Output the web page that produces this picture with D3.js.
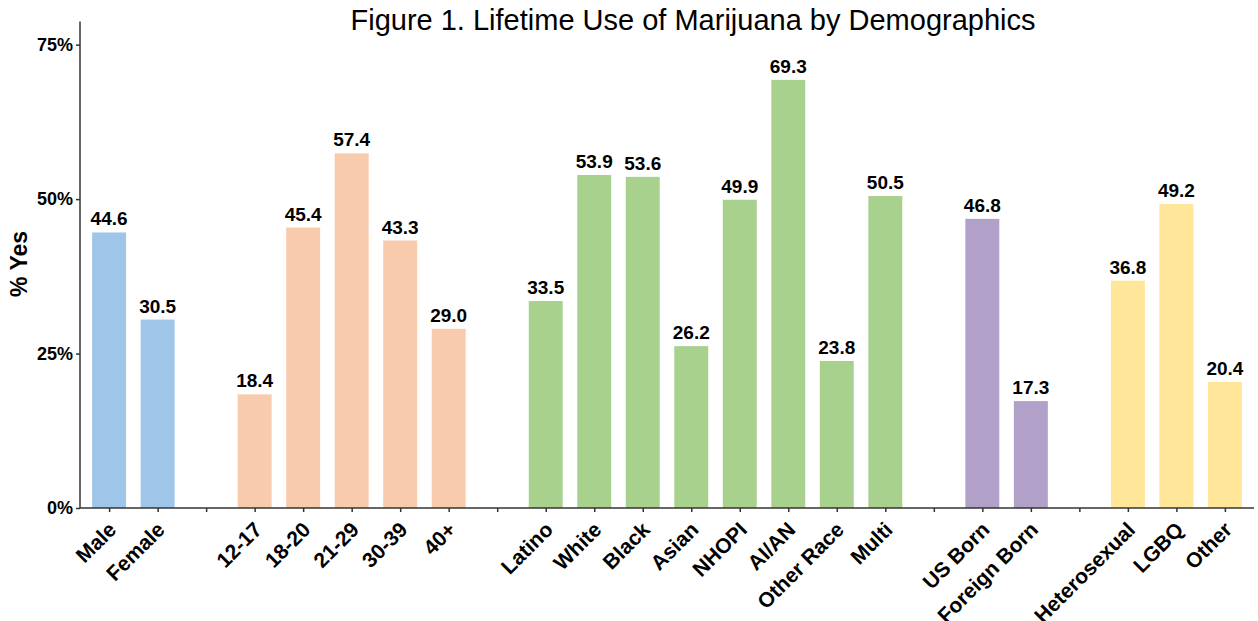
<!DOCTYPE html>
<meta charset="utf-8">
<head>
    <style>
        body {
            margin: 0;
            background: white;
            font-family: "Liberation Sans", Arial, sans-serif;
        }

        .tick text {
            font-weight: bold;
            fill: black;
        }

        .domain, .tick line {
            stroke: #333;
            stroke-width: 1.5px;
        }
    </style>
</head>

<body>
    <script src="https://d3js.org/d3.v7.min.js"></script>
    <div id="chart"></div>

    <script>
        // data: "" marks an empty slot between groups
        var categories = ["Male", "Female", "",
            "12-17", "18-20", "21-29", "30-39", "40+", "",
            "Latino", "White", "Black", "Asian", "NHOPI", "AI/AN", "Other Race", "Multi", "",
            "US Born", "Foreign Born", "",
            "Heterosexual", "LGBQ", "Other"];
        var values = [44.6, 30.5, null,
            18.4, 45.4, 57.4, 43.3, 29.0, null,
            33.5, 53.9, 53.6, 26.2, 49.9, 69.3, 23.8, 50.5, null,
            46.8, 17.3, null,
            36.8, 49.2, 20.4];
        var groups = [0, 0, -1,
            1, 1, 1, 1, 1, -1,
            2, 2, 2, 2, 2, 2, 2, 2, -1,
            3, 3, -1,
            4, 4, 4];
        var groupColors = ["#9fc5e8", "#f8cbad", "#a9d18e", "#b1a0c7", "#ffe699"];
        var yTicks = [0, 25, 50, 75];

        var W = 1258, H = 621;
        var plot = { left: 80, right: 1254, top: 21.5, bottom: 508 };

        var svg = d3.select("#chart").append("svg")
            .attr("width", W)
            .attr("height", H);

        // x: slot index, with matplotlib-like margins
        var x = d3.scaleLinear()
            .domain([-0.6, categories.length - 0.4])
            .range([plot.left, plot.right]);
        var barW = (x(1) - x(0)) * 0.7;

        var y = d3.scaleLinear()
            .domain([0, 78.75])
            .range([plot.bottom, plot.top]);

        var idx = d3.range(categories.length).filter(function (i) { return values[i] != null; });

        // bars
        svg.append("g")
            .selectAll("rect")
            .data(idx)
            .enter()
            .append("rect")
            .attr("x", function (i) { return x(i) - barW / 2; })
            .attr("y", function (i) { return y(values[i]); })
            .attr("width", barW)
            .attr("height", function (i) { return y(0) - y(values[i]); })
            .style("fill", function (i) { return groupColors[groups[i]]; });

        // value labels
        svg.append("g")
            .selectAll("text")
            .data(idx)
            .enter()
            .append("text")
            .attr("x", function (i) { return x(i); })
            .attr("y", function (i) { return y(values[i]) - 7; })
            .attr("text-anchor", "middle")
            .style("font-weight", "bold")
            .style("font-size", "19px")
            .text(function (i) { return values[i].toFixed(1); });

        // y-axis
        svg.append("g")
            .attr("transform", "translate(" + plot.left + ",0)")
            .call(d3.axisLeft(y).tickValues(yTicks).tickSize(4).tickPadding(3)
                .tickFormat(function (d) { return d + "%"; }))
            .call(function (g) {
                g.select(".domain").attr("d", "M0," + plot.top + "V" + plot.bottom);
                g.selectAll(".tick text").style("font-size", "18px");
            });

        // x-axis
        var xAxis = svg.append("g")
            .attr("transform", "translate(0," + plot.bottom + ")")
            .call(d3.axisBottom(x).tickValues(d3.range(categories.length)).tickSize(4)
                .tickFormat(function (i) { return categories[i]; }))
            .call(function (g) { g.select(".domain").attr("d", "M" + plot.left + ",0H" + plot.right); });

        xAxis.selectAll(".tick text")
            .attr("text-anchor", "end")
            .attr("dy", null)
            .attr("y", null)
            .style("font-size", "21px")
            .attr("transform", "translate(8,23) rotate(-45)");

        // y label
        svg.append("text")
            .attr("transform", "translate(27,264) rotate(-90)")
            .attr("text-anchor", "middle")
            .style("font-weight", "bold")
            .style("font-size", "23px")
            .text("% Yes");

        // title
        svg.append("text")
            .attr("x", 693)
            .attr("y", 30)
            .attr("text-anchor", "middle")
            .style("font-size", "29px")
            .text("Figure 1. Lifetime Use of Marijuana by Demographics");
    </script>
</body>
